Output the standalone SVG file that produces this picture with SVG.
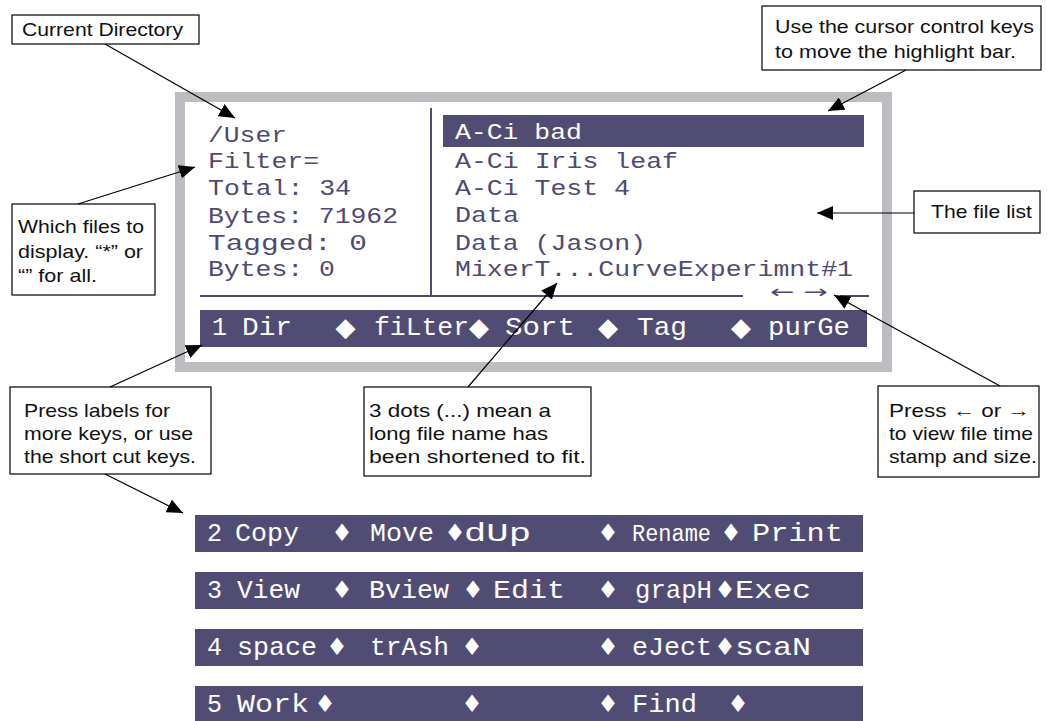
<svg xmlns="http://www.w3.org/2000/svg" width="1047" height="721" viewBox="0 0 1047 721">
<defs>
<marker id="ah" markerUnits="userSpaceOnUse" markerWidth="17" markerHeight="14" refX="16" refY="7" orient="auto">
<path d="M0,0 L16,7 L0,14 z" fill="#000"/>
</marker>
<style>
.box{fill:#fff;stroke:#000;stroke-width:1.2}
.ct{font-family:"Liberation Sans",Arial,sans-serif;font-size:19px;fill:#111}
.conn line{stroke:#000;stroke-width:1.2;marker-end:url(#ah)}
.mono{font-family:"Liberation Mono","Courier New",monospace;font-size:22px;fill:#4f4a72}
.bar{fill:#514c74}
.bt{font-family:"Liberation Mono","Courier New",monospace;font-size:25px;fill:#fff}
.dm1{font-family:"DejaVu Sans",sans-serif;font-size:26px;fill:#fff;text-anchor:middle}
.dm{font-family:"DejaVu Sans",sans-serif;font-size:24px;fill:#fff;text-anchor:middle}
.pl{stroke:#4f4a72;stroke-width:2;fill:none}
</style>
</defs>
<rect width="1047" height="721" fill="#fff"/>

<g id="screen">
<rect x="180" y="97" width="707" height="270" fill="#fff" stroke="#bbbdc0" stroke-width="10"/>
<line class="pl" x1="431" y1="108" x2="431" y2="296"/>
<line class="pl" x1="200" y1="296" x2="743" y2="296"/>
<line class="pl" x1="840" y1="296" x2="869" y2="296"/>
<text x="770" y="298" font-family="DejaVu Sans,sans-serif" font-size="18" fill="#4f4a72" textLength="58" lengthAdjust="spacingAndGlyphs">← →</text>
<rect x="443" y="115" width="421" height="32" fill="#514c74"/>
<g class="mono">
<text x="208" y="142" textLength="79" lengthAdjust="spacingAndGlyphs">/User</text>
<text x="208" y="168" textLength="111" lengthAdjust="spacingAndGlyphs">Filter=</text>
<text x="208" y="195" textLength="143" lengthAdjust="spacingAndGlyphs">Total: 34</text>
<text x="208" y="223" textLength="190" lengthAdjust="spacingAndGlyphs">Bytes: 71962</text>
<text x="208" y="250" textLength="159" lengthAdjust="spacingAndGlyphs">Tagged: 0</text>
<text x="208" y="276" textLength="127" lengthAdjust="spacingAndGlyphs">Bytes: 0</text>
<text x="455" y="139" fill="#fff" textLength="127" lengthAdjust="spacingAndGlyphs">A-Ci bad</text>
<text x="455" y="168" textLength="223" lengthAdjust="spacingAndGlyphs">A-Ci Iris leaf</text>
<text x="455" y="195" textLength="175" lengthAdjust="spacingAndGlyphs">A-Ci Test 4</text>
<text x="455" y="222" textLength="64" lengthAdjust="spacingAndGlyphs">Data</text>
<text x="455" y="250" textLength="191" lengthAdjust="spacingAndGlyphs">Data (Jason)</text>
<text x="455" y="276" textLength="398" lengthAdjust="spacingAndGlyphs">MixerT...CurveExperimnt#1</text>
</g>
<g id="menu1">
<rect class="bar" x="200" y="310" width="667" height="37"/>
<g class="bt">
<text x="212" y="335">1</text>
<text x="242" y="335" textLength="50" lengthAdjust="spacingAndGlyphs">Dir</text>
<text x="374" y="335" textLength="95" lengthAdjust="spacingAndGlyphs">fiLter</text>
<text x="505" y="335" textLength="70" lengthAdjust="spacingAndGlyphs">Sort</text>
<text x="637" y="335" textLength="50" lengthAdjust="spacingAndGlyphs">Tag</text>
<text x="768" y="335" textLength="82" lengthAdjust="spacingAndGlyphs">purGe</text>
</g>
<g class="dm1">
<text x="345.5" y="336">◆</text><text x="479" y="336">◆</text><text x="608" y="336">◆</text><text x="741" y="336">◆</text>
</g>
</g>
</g>

<g id="menu2">
<rect class="bar" x="195" y="515" width="668" height="37"/>
<g class="bt">
<text x="207" y="541">2</text>
<text x="235" y="541" textLength="64" lengthAdjust="spacingAndGlyphs">Copy</text>
<text x="370" y="541" textLength="64" lengthAdjust="spacingAndGlyphs">Move</text>
<text x="464" y="541" textLength="67" lengthAdjust="spacingAndGlyphs">dUp</text>
<text x="632" y="541" font-size="23" textLength="79" lengthAdjust="spacingAndGlyphs">Rename</text>
<text x="752" y="541" textLength="91" lengthAdjust="spacingAndGlyphs">Print</text>
</g>
<g class="dm"><text x="342" y="541">♦</text><text x="455" y="541">♦</text><text x="608" y="541">♦</text><text x="731" y="541">♦</text></g>
</g>

<g id="menu3">
<rect class="bar" x="195" y="572" width="668" height="37"/>
<g class="bt">
<text x="207" y="598">3</text>
<text x="237" y="598" textLength="63" lengthAdjust="spacingAndGlyphs">View</text>
<text x="369" y="598" textLength="80" lengthAdjust="spacingAndGlyphs">Bview</text>
<text x="493" y="598" textLength="72" lengthAdjust="spacingAndGlyphs">Edit</text>
<text x="635" y="598" textLength="77" lengthAdjust="spacingAndGlyphs">grapH</text>
<text x="735" y="598" textLength="76" lengthAdjust="spacingAndGlyphs">Exec</text>
</g>
<g class="dm"><text x="342" y="598">♦</text><text x="473" y="598">♦</text><text x="608" y="598">♦</text><text x="725" y="598">♦</text></g>
</g>

<g id="menu4">
<rect class="bar" x="195" y="629" width="668" height="37"/>
<g class="bt">
<text x="207" y="655">4</text>
<text x="237" y="655" textLength="80" lengthAdjust="spacingAndGlyphs">space</text>
<text x="370" y="655" textLength="79" lengthAdjust="spacingAndGlyphs">trAsh</text>
<text x="632" y="655" textLength="80" lengthAdjust="spacingAndGlyphs">eJect</text>
<text x="735" y="655" textLength="76" lengthAdjust="spacingAndGlyphs">scaN</text>
</g>
<g class="dm"><text x="337" y="655">♦</text><text x="472" y="655">♦</text><text x="608" y="655">♦</text><text x="725" y="655">♦</text></g>
</g>

<g id="menu5">
<rect class="bar" x="195" y="686" width="668" height="37"/>
<g class="bt">
<text x="207" y="712">5</text>
<text x="237" y="712" textLength="72" lengthAdjust="spacingAndGlyphs">Work</text>
<text x="632" y="712" textLength="65" lengthAdjust="spacingAndGlyphs">Find</text>
</g>
<g class="dm"><text x="325" y="712">♦</text><text x="472" y="712">♦</text><text x="608" y="712">♦</text><text x="738" y="712">♦</text></g>
</g>

<g id="callout-dir">
<rect class="box" x="12" y="15" width="187" height="29"/>
<text class="ct" x="22" y="36" textLength="161" lengthAdjust="spacingAndGlyphs">Current Directory</text>
</g>
<g id="callout-cursor">
<rect class="box" x="762" y="6" width="279" height="64"/>
<text class="ct" x="775" y="33" textLength="259" lengthAdjust="spacingAndGlyphs">Use the cursor control keys</text>
<text class="ct" x="775" y="58" textLength="241" lengthAdjust="spacingAndGlyphs">to move the highlight bar.</text>
</g>
<g id="callout-filelist">
<rect class="box" x="914" y="191" width="126" height="42"/>
<text class="ct" x="931" y="218" textLength="101" lengthAdjust="spacingAndGlyphs">The file list</text>
</g>
<g id="callout-filter">
<rect class="box" x="12" y="204" width="143" height="91"/>
<text class="ct" x="18" y="233" textLength="126" lengthAdjust="spacingAndGlyphs">Which files to</text>
<text class="ct" x="18" y="258" textLength="125" lengthAdjust="spacingAndGlyphs">display. “*” or</text>
<text class="ct" x="18" y="282" textLength="79" lengthAdjust="spacingAndGlyphs">“” for all.</text>
</g>
<g id="callout-labels">
<rect class="box" x="10" y="387" width="201" height="87"/>
<text class="ct" x="24" y="417" textLength="146" lengthAdjust="spacingAndGlyphs">Press labels for</text>
<text class="ct" x="24" y="440" textLength="169" lengthAdjust="spacingAndGlyphs">more keys, or use</text>
<text class="ct" x="24" y="463" textLength="172" lengthAdjust="spacingAndGlyphs">the short cut keys.</text>
</g>
<g id="callout-dots">
<rect class="box" x="364" y="387" width="227" height="89"/>
<text class="ct" x="369" y="417" textLength="182" lengthAdjust="spacingAndGlyphs">3 dots (...) mean a</text>
<text class="ct" x="369" y="440" textLength="179" lengthAdjust="spacingAndGlyphs">long file name has</text>
<text class="ct" x="369" y="463" textLength="217" lengthAdjust="spacingAndGlyphs">been shortened to fit.</text>
</g>
<g id="callout-arrows">
<rect class="box" x="878" y="386" width="161" height="91"/>
<text class="ct" x="889" y="417" textLength="141" lengthAdjust="spacingAndGlyphs">Press ← or →</text>
<text class="ct" x="889" y="440" textLength="144" lengthAdjust="spacingAndGlyphs">to view file time</text>
<text class="ct" x="889" y="463" textLength="148" lengthAdjust="spacingAndGlyphs">stamp and size.</text>
</g>

<g id="connectors" class="conn">
<line x1="105" y1="44" x2="235" y2="118"/>
<line x1="78" y1="204" x2="195" y2="167"/>
<line x1="906" y1="70" x2="828" y2="111"/>
<line x1="914" y1="213" x2="817" y2="213"/>
<line x1="110" y1="387" x2="202" y2="345"/>
<line x1="105" y1="474" x2="183" y2="513"/>
<line x1="468" y1="387" x2="557" y2="283"/>
<line x1="1000" y1="386" x2="834" y2="295"/>
</g>
</svg>
